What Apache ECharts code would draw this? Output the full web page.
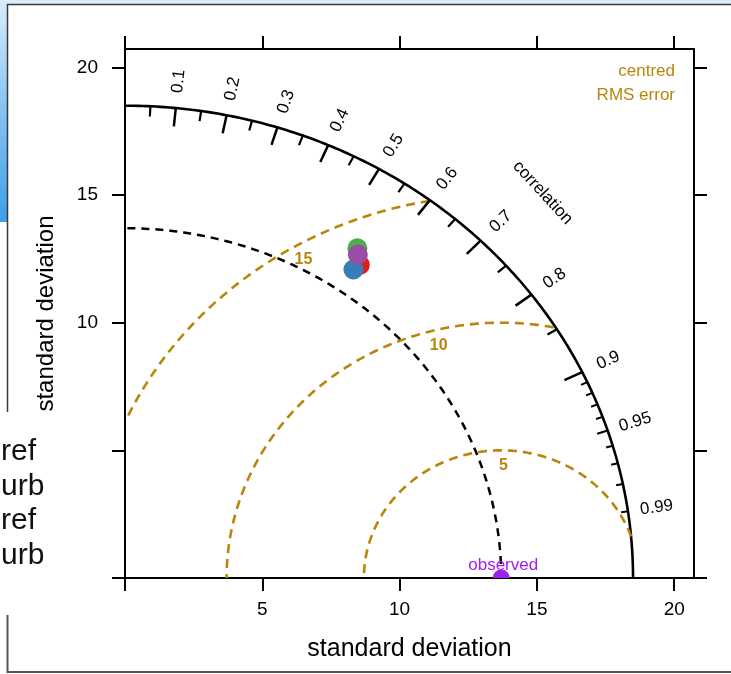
<!DOCTYPE html>
<html><head><meta charset="utf-8">
<script src="https://cdn.jsdelivr.net/npm/echarts@6/dist/echarts.min.js"></script>
<style>html,body{margin:0;padding:0;background:#fff}#chart{width:731px;height:674px}</style>
</head><body><div id="chart"></div>
<script>
// ---------------- data ----------------
const sdTickValues = [0, 5, 10, 15, 20];
const xTickLabels = [5, 10, 15, 20];
const yTickLabels = [10, 15, 20];
const axisMax = 20.72;
const maxSd = 18.5;          // outer standard-deviation arc
const obsSd = 13.7;          // observed standard deviation
const rmsLevels = [5, 10, 15];
const corMajor = [0.1, 0.2, 0.3, 0.4, 0.5, 0.6, 0.7, 0.8, 0.9];
const corMedium = [0.05, 0.15, 0.25, 0.35, 0.45, 0.55, 0.65, 0.75, 0.85, 0.95];
const corMinor = [0.91, 0.92, 0.93, 0.94, 0.96, 0.97, 0.98, 0.99];
const corLabelValues = [0.1, 0.2, 0.3, 0.4, 0.5, 0.6, 0.7, 0.8, 0.9, 0.95, 0.99];
const corLabels = ['0.1', '0.2', '0.3', '0.4', '0.5', '0.6', '0.7', '0.8', '0.9', '0.95', '0.99'];
const modelGroups = ['ref', 'urb', 'ref', 'urb'];
const modelSd = [14.95, 14.67, 15.44, 15.25];
const modelCor = [0.572, 0.567, 0.548, 0.556];

// ---------------- styles ----------------
const FONT = '"Liberation Sans", Arial, Helvetica, sans-serif';
const GOLD = '#B8860B';
const OBS = '#A020F0';
const modelColors = ['#E41A1C', '#377EB8', '#4DAF4A', '#984EA3'];

const toXY = (sd, cor) => [sd * cor, sd * Math.sqrt(1 - cor * cor)];

function tickSeries(values, len, width) {
  return {
    type: 'custom', coordinateSystem: 'cartesian2d', silent: true, z: 4,
    data: values.map(c => [c, 0]),
    renderItem(params, api) {
      const t = Math.acos(api.value(0));
      const a = api.coord([maxSd * Math.cos(t), maxSd * Math.sin(t)]);
      const b = api.coord([(maxSd - len) * Math.cos(t), (maxSd - len) * Math.sin(t)]);
      return { type: 'line', shape: { x1: a[0], y1: a[1], x2: b[0], y2: b[1] },
        style: { stroke: '#000', lineWidth: width } };
    }
  };
}

const axisCommon = {
  type: 'value', min: 0, max: axisMax,
  axisLine: { show: true, onZero: false, lineStyle: { color: '#000', width: 2 } },
  axisTick: { show: true, inside: false, length: 13, customValues: sdTickValues,
    lineStyle: { color: '#000', width: 2 } },
  splitLine: { show: false }
};

const series = [];

// standard deviation arcs (outer solid, observed dashed)
series.push({
  type: 'custom', coordinateSystem: 'cartesian2d', silent: true, z: 3,
  data: [[maxSd, 0], [obsSd, 0]],
  renderItem(params, api) {
    const r = api.value(0);
    const pts = [];
    for (let d = 0; d <= 90; d += 0.5) {
      const t = d * Math.PI / 180;
      pts.push(api.coord([r * Math.cos(t), r * Math.sin(t)]));
    }
    const outer = params.dataIndex === 0;
    return { type: 'polyline', shape: { points: pts },
      style: { stroke: '#000', fill: 'none', lineWidth: outer ? 2.6 : 2.5,
        lineDash: outer ? null : [8, 6] } };
  }
});

// centred RMS error arcs
const rmsLabelDeg = [89, 104, 120];
series.push({
  type: 'custom', coordinateSystem: 'cartesian2d', silent: true, z: 3,
  data: rmsLevels.map(g => [g, 0]),
  renderItem(params, api) {
    const g = api.value(0);
    const pts = [];
    for (let d = 0; d <= 180; d += 0.5) {
      const t = d * Math.PI / 180;
      const x = obsSd + g * Math.cos(t), y = g * Math.sin(t);
      if (x < 0) break;
      if (x * x + y * y > maxSd * maxSd) continue;
      pts.push(api.coord([x, y]));
    }
    const la = rmsLabelDeg[params.dataIndex] * Math.PI / 180;
    const lp = api.coord([obsSd + (g - 0.6) * Math.cos(la), (g - 0.6) * Math.sin(la)]);
    return { type: 'group', children: [
      { type: 'polyline', shape: { points: pts },
        style: { stroke: GOLD, fill: 'none', lineWidth: 2.6, lineDash: [9, 6] } },
      { type: 'text', x: lp[0], y: lp[1],
        style: { text: String(g), fill: GOLD, font: 'bold 16px ' + FONT, align: 'center', verticalAlign: 'middle' } }
    ] };
  }
});

series.push(tickSeries(corMajor, 0.72, 2.5));
series.push(tickSeries(corMedium, 0.4, 2.2));
series.push(tickSeries(corMinor, 0.25, 2));

// correlation labels
series.push({
  type: 'custom', coordinateSystem: 'cartesian2d', silent: true, z: 4,
  data: corLabelValues.map(c => [c, 0]),
  renderItem(params, api) {
    const t = Math.acos(api.value(0));
    const R = maxSd * 1.057;
    const p = api.coord([R * Math.cos(t), R * Math.sin(t)]);
    const o = api.coord([0, 0]);
    const rot = Math.atan2(o[1] - p[1], p[0] - o[0]);
    return { type: 'text', x: p[0], y: p[1], rotation: rot,
      style: { text: corLabels[params.dataIndex], fill: '#000', font: '17px ' + FONT,
        align: 'center', verticalAlign: 'middle' } };
  }
});

// "correlation" title
series.push({
  type: 'custom', coordinateSystem: 'cartesian2d', silent: true, z: 4,
  data: [[0.71, 0]],
  renderItem(params, api) {
    const t = Math.acos(api.value(0));
    const R = maxSd * 1.158;
    const p = api.coord([R * Math.cos(t), R * Math.sin(t)]);
    const o = api.coord([0, 0]);
    const rot = Math.atan2(o[1] - p[1], p[0] - o[0]) - Math.PI / 2;
    return { type: 'text', x: p[0], y: p[1], rotation: rot,
      style: { text: 'correlation', fill: '#000', font: '17px ' + FONT,
        align: 'center', verticalAlign: 'middle' } };
  }
});

// model points
modelSd.forEach((sd, i) => {
  series.push({
    type: 'scatter', name: modelGroups[i], z: 6,
    symbol: 'circle', symbolSize: 20,
    itemStyle: { color: modelColors[i], opacity: 1 },
    data: [toXY(sd, modelCor[i])]
  });
});

// observed point (half disc on the axis) + label
series.push({
  type: 'custom', coordinateSystem: 'cartesian2d', silent: true, z: 6,
  data: [[obsSd, 0]],
  renderItem(params, api) {
    const p = api.coord([api.value(0), api.value(1)]);
    return { type: 'group', children: [
      { type: 'sector', shape: { cx: p[0], cy: p[1], r0: 0, r: 8.5, startAngle: Math.PI, endAngle: 2 * Math.PI },
        style: { fill: OBS } },
      { type: 'text', x: p[0] + 2, y: p[1] - 13,
        style: { text: 'observed', fill: OBS, font: '17px ' + FONT, align: 'center', verticalAlign: 'middle' } }
    ] };
  }
});

const option = {
  animation: false,
  backgroundColor: '#fff',
  grid: { left: 125, right: 37, top: 49, bottom: 96, containLabel: false, outerBoundsMode: 'none' },
  xAxis: [
    Object.assign({}, axisCommon, {
      position: 'bottom',
      axisLabel: { show: true, customValues: xTickLabels, margin: 22, fontSize: 19, color: '#000', fontFamily: FONT },
      name: 'standard deviation', nameLocation: 'middle', nameGap: 59,
      nameTextStyle: { fontSize: 25, color: '#000', fontFamily: FONT }
    }),
    Object.assign({}, axisCommon, { position: 'top', axisLabel: { show: false } })
  ],
  yAxis: [
    Object.assign({}, axisCommon, {
      position: 'left',
      axisLabel: { show: true, customValues: yTickLabels, margin: 27, fontSize: 19, color: '#000', fontFamily: FONT },
      name: 'standard deviation', nameLocation: 'middle', nameGap: 67,
      nameTextStyle: { fontSize: 24, color: '#000', fontFamily: FONT }
    }),
    Object.assign({}, axisCommon, { position: 'right', axisLabel: { show: false } })
  ],
  graphic: [
    { type: 'rect', shape: { x: 0, y: 0, width: 731, height: 4 }, style: { fill: '#dcecfa' }, silent: true },
    { type: 'rect', shape: { x: 0, y: 0, width: 7, height: 222 }, silent: true,
      style: { fill: { type: 'linear', x: 0, y: 0, x2: 0, y2: 1,
        colorStops: [{ offset: 0, color: '#dcecfa' }, { offset: 0.45, color: '#8cc6f2' }, { offset: 1, color: '#3e9fe8' }] } } },
    { type: 'polyline', shape: { points: [[731, 4.5], [7.5, 4.5], [7.5, 412]] }, style: { stroke: '#3a3a3a', lineWidth: 1.5, fill: 'none' }, silent: true },
    { type: 'polyline', shape: { points: [[7.5, 615], [7.5, 672], [731, 672]] }, style: { stroke: '#555', lineWidth: 2, fill: 'none' }, silent: true },
    { type: 'text', x: 675, y: 71, silent: true,
      style: { text: 'centred', fill: GOLD, font: '17px ' + FONT, align: 'right', verticalAlign: 'middle' } },
    { type: 'text', x: 675, y: 95, silent: true,
      style: { text: 'RMS error', fill: GOLD, font: '17px ' + FONT, align: 'right', verticalAlign: 'middle' } },
    ...modelGroups.map((g, i) => ({ type: 'text', x: 1, y: 452 + i * 34.5, silent: true,
      style: { text: g, fill: '#111', font: '30px ' + FONT, align: 'left', verticalAlign: 'middle' } }))
  ],
  series
};

const chart = echarts.init(document.getElementById('chart'));
chart.setOption(option);
</script>
</body></html>
